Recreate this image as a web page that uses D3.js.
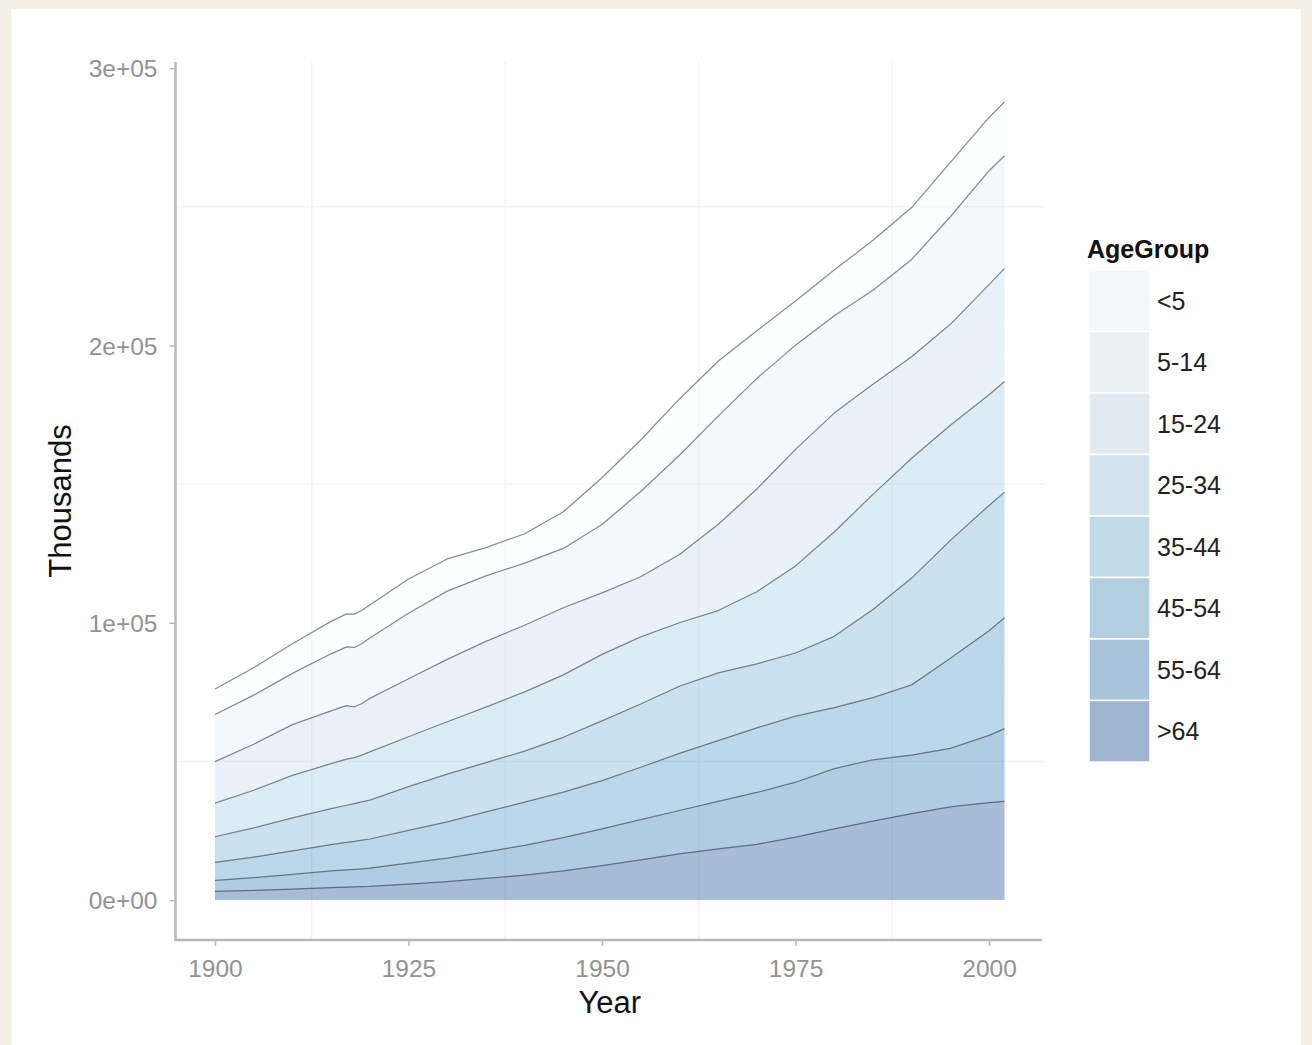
<!DOCTYPE html>
<html>
<head>
<meta charset="utf-8">
<script src="https://cdn.jsdelivr.net/npm/d3@7"></script>
<style>
  html, body { margin: 0; padding: 0; background: #f5f0e6; }
  svg { display: block; }
  text { font-family: "Liberation Sans", Arial, Helvetica, sans-serif; }
</style>
</head>
<body>
<svg id="chart" width="1312" height="1045"></svg>
<script>
// US population by age group, thousands
const years    = [1900, 1905, 1910, 1915, 1917, 1918, 1919, 1920, 1925, 1930, 1935, 1940, 1945, 1950, 1955, 1960, 1965, 1970, 1975, 1980, 1985, 1990, 1995, 2000, 2002];
const under5   = [9181, 9900, 10700, 11700, 11900, 12000, 12000, 11900, 12400, 11600, 10200, 10600, 13200, 16900, 18600, 20300, 19800, 17200, 15900, 16500, 18000, 18700, 19600, 19200, 19400];
const age5_14  = [16966, 17700, 18500, 20600, 21200, 21400, 21600, 21800, 23600, 24600, 23600, 22400, 21400, 24600, 30700, 35800, 39100, 39900, 37600, 35100, 33900, 35100, 38800, 41100, 40600];
const age15_24 = [14951, 16600, 18300, 19000, 19300, 18300, 18600, 19300, 20900, 22500, 23700, 24000, 24200, 22200, 21700, 24600, 31000, 37000, 42000, 42900, 39700, 36600, 36400, 39700, 40800];
const age25_34 = [12161, 13600, 15300, 16200, 16600, 16600, 16900, 17400, 18000, 18900, 20000, 21400, 22500, 24000, 24200, 22900, 22500, 26000, 31400, 37600, 41500, 43200, 41500, 39900, 39900];
const age35_44 = [9273, 10500, 11900, 13000, 13400, 13600, 13800, 14000, 15800, 17200, 17800, 18400, 19800, 21500, 22800, 24200, 24400, 23100, 22800, 25700, 31800, 38500, 42500, 45200, 45300];
const age45_54 = [6437, 7400, 8500, 9500, 9900, 10100, 10300, 10500, 11800, 13100, 14400, 15600, 16400, 17400, 18900, 20600, 21900, 23300, 23800, 22000, 22400, 25300, 32500, 37700, 40000];
const age55_64 = [4026, 4600, 5300, 6000, 6200, 6300, 6400, 6600, 7500, 8400, 9600, 10700, 12000, 13300, 14500, 15600, 17100, 18700, 19800, 21700, 22100, 21100, 21100, 24300, 26200];
const over64   = [3099, 3500, 3950, 4500, 4700, 4800, 4900, 4930, 5800, 6700, 7800, 9000, 10500, 12400, 14500, 16700, 18500, 20100, 22700, 25700, 28500, 31200, 33600, 35100, 35600];

const ageGroups = ["<5", "5-14", "15-24", "25-34", "35-44", "45-54", "55-64", ">64"];
const xTicks = [1900, 1925, 1950, 1975, 2000];
const yTicks = [0, 100000, 200000, 300000];
const yTickLabels = ["0e+00", "1e+05", "2e+05", "3e+05"];

const seriesByGroup = {
  "<5": under5, "5-14": age5_14, "15-24": age15_24, "25-34": age25_34,
  "35-44": age35_44, "45-54": age45_54, "55-64": age55_64, ">64": over64
};

// one row per year for d3.stack
const table = years.map((yr, i) => {
  const row = { Year: yr };
  ageGroups.forEach(g => { row[g] = seriesByGroup[g][i]; });
  return row;
});

// ColorBrewer Blues, lightest for the youngest group
const blues = d3.schemeBlues[8];
const fillOf = d3.scaleOrdinal().domain(ageGroups).range(blues);
const fillAlpha = 0.36;

const svg = d3.select("#chart");

// white card on the page background
svg.append("rect").attr("x", 11).attr("y", 9).attr("width", 1290).attr("height", 1045 - 9).attr("fill", "#ffffff");

// panel extents
const pLeft = 175.5, pRight = 1044, pTop = 62, pBottom = 940;

const totals = table.map(r => d3.sum(ageGroups, g => r[g]));
const xMin = d3.min(years), xMax = d3.max(years);
const xPad = (xMax - xMin) * 0.05;
const yMaxData = d3.max(totals);
const yPad = yMaxData * 0.05;

const x = d3.scaleLinear().domain([xMin - xPad, xMax + xPad]).range([pLeft, pRight]);
const y = d3.scaleLinear().domain([-yPad, yMaxData + yPad]).range([pBottom, pTop]);

// minor grid lines
const gridColor = "#f3f3f3";
const xMinor = [1912.5, 1937.5, 1962.5, 1987.5];
const yMinor = [50000, 150000, 250000];
const grid = svg.append("g");
grid.selectAll("line.vx").data(xMinor).join("line")
  .attr("x1", d => x(d)).attr("x2", d => x(d)).attr("y1", pTop).attr("y2", pBottom)
  .attr("stroke", gridColor).attr("stroke-width", 1.5);
grid.selectAll("line.hy").data(yMinor).join("line")
  .attr("x1", pLeft).attr("x2", pRight).attr("y1", d => y(d)).attr("y2", d => y(d))
  .attr("stroke", gridColor).attr("stroke-width", 1.5);

// stacked areas, oldest group at the bottom
const stackOrder = ageGroups.slice().reverse();
const stacked = d3.stack().keys(stackOrder)(table);

const area = d3.area()
  .x(d => x(d.data.Year))
  .y0(d => y(d[0]))
  .y1(d => y(d[1]));

const upper = d3.line()
  .x(d => x(d.data.Year))
  .y(d => y(d[1]));

const layers = svg.append("g");
layers.selectAll("path.area").data(stacked).join("path")
  .attr("class", "area")
  .attr("d", area)
  .attr("fill", d => fillOf(d.key))
  .attr("fill-opacity", fillAlpha);

layers.selectAll("path.edge").data(stacked).join("path")
  .attr("class", "edge")
  .attr("d", upper)
  .attr("fill", "none")
  .attr("stroke", "#000")
  .attr("stroke-opacity", 0.45)
  .attr("stroke-width", 1.25)
  .attr("stroke-linejoin", "round");

// axes
const axisColor = "#b8b8b8";
const tickText = "#929292";

const yAxis = d3.axisLeft(y).tickValues(yTicks)
  .tickFormat((d, i) => yTickLabels[i]).tickSize(6).tickPadding(12);
const gy = svg.append("g").attr("transform", `translate(${pLeft},0)`).call(yAxis);
gy.select(".domain").remove();
gy.selectAll(".tick line").attr("stroke", axisColor).attr("stroke-width", 1.5);
gy.selectAll(".tick text").attr("fill", tickText).style("font-size", "24.5px").attr("dy", "0.36em");

const xAxis = d3.axisBottom(x).tickValues(xTicks).tickFormat(d3.format("d")).tickSize(6).tickPadding(10);
const gx = svg.append("g").attr("transform", `translate(0,${pBottom})`).call(xAxis);
gx.select(".domain").remove();
gx.selectAll(".tick line").attr("stroke", axisColor).attr("stroke-width", 1.5);
gx.selectAll(".tick text").attr("fill", tickText).style("font-size", "24.5px").attr("dy", "0.85em");

// axis lines
svg.append("line").attr("x1", pLeft).attr("x2", pLeft).attr("y1", pTop).attr("y2", pBottom + 1)
  .attr("stroke", axisColor).attr("stroke-width", 2.5);
svg.append("line").attr("x1", pLeft - 1).attr("x2", pRight - 2).attr("y1", pBottom).attr("y2", pBottom)
  .attr("stroke", axisColor).attr("stroke-width", 2.5);

// axis titles
svg.append("text").attr("x", (pLeft + pRight) / 2).attr("y", 1013)
  .attr("text-anchor", "middle").attr("fill", "#111").style("font-size", "31px").text("Year");
svg.append("text").attr("transform", `translate(71,${(pTop + pBottom) / 2}) rotate(-90)`)
  .attr("text-anchor", "middle").attr("fill", "#111").style("font-size", "31px").text("Thousands");

// legend
const legend = svg.append("g");
const keyX = 1089, keyY = 270, keyW = 61, keyH = 61.5;
legend.append("text").attr("x", 1087).attr("y", 258)
  .attr("fill", "#111").style("font-size", "25px").style("font-weight", "bold").text("AgeGroup");

const keys = legend.selectAll("g.key").data(ageGroups).join("g")
  .attr("class", "key")
  .attr("transform", (d, i) => `translate(${keyX},${keyY + i * keyH})`);
keys.append("rect").attr("width", keyW).attr("height", keyH).attr("fill", "#f2f2f2");
keys.append("rect").attr("width", keyW).attr("height", keyH)
  .attr("fill", d => fillOf(d)).attr("fill-opacity", fillAlpha)
  .attr("stroke", "#ffffff").attr("stroke-width", 1.5);
keys.append("text").attr("x", keyW + 7).attr("y", keyH / 2).attr("dy", "0.36em")
  .attr("fill", "#222").style("font-size", "25px").text(d => d);
</script>
</body>
</html>
